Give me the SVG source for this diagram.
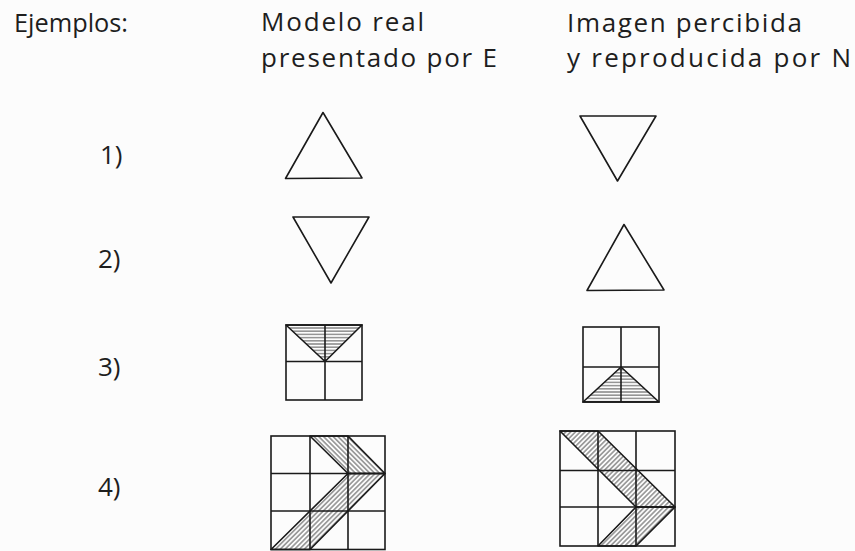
<svg xmlns="http://www.w3.org/2000/svg" width="855" height="551" viewBox="0 0 855 551">
<style>
text{font-family:"Open Sans","Liberation Sans",sans-serif;font-weight:400;font-size:26px;fill:#1e1e1e}
.s{fill:none;stroke:#1a1a1a;stroke-width:1.6;stroke-linejoin:round}
.g{fill:none;stroke:#1a1a1a;stroke-width:1.6}
.hh{fill:url(#hz);stroke:#1a1a1a;stroke-width:1.6;stroke-linejoin:round}
.hb{fill:url(#bk);stroke:#1a1a1a;stroke-width:1.6;stroke-linejoin:round}
.hf{fill:url(#fw);stroke:#1a1a1a;stroke-width:1.6;stroke-linejoin:round}
</style>
<defs>
<pattern id="hz" width="10" height="3.2" patternUnits="userSpaceOnUse"><line x1="0" y1="1.6" x2="10" y2="1.6" stroke="#444" stroke-width="0.9"/></pattern>
<pattern id="bk" width="10" height="3.4" patternUnits="userSpaceOnUse" patternTransform="rotate(45)"><line x1="0" y1="1.7" x2="10" y2="1.7" stroke="#444" stroke-width="0.9"/></pattern>
<pattern id="fw" width="10" height="3.4" patternUnits="userSpaceOnUse" patternTransform="rotate(-45)"><line x1="0" y1="1.7" x2="10" y2="1.7" stroke="#444" stroke-width="0.9"/></pattern>
</defs>
<rect width="855" height="551" fill="#fcfcfc"/>
<g id="headers">
<text x="14" y="32" textLength="114" lengthAdjust="spacingAndGlyphs">Ejemplos:</text>
<text x="261" y="31" textLength="163" lengthAdjust="spacing">Modelo real</text>
<text x="261" y="67" textLength="236" lengthAdjust="spacing">presentado por E</text>
<text x="567" y="32" textLength="235" lengthAdjust="spacing">Imagen percibida</text>
<text x="567" y="67" textLength="284" lengthAdjust="spacing">y reproducida por N</text>
</g>
<g id="labels">
<text x="100" y="164">1)</text>
<text x="98" y="268">2)</text>
<text x="98" y="376">3)</text>
<text x="98" y="496">4)</text>
</g>
<g id="ex1-model"><polygon class="s" points="323,112.5 285.5,178.5 362,178"/></g>
<g id="ex1-image"><polygon class="s" points="580,116 656,116 617.5,181"/></g>
<g id="ex2-model"><polygon class="s" points="293,217 369,217 331,283"/></g>
<g id="ex2-image"><polygon class="s" points="624,224.5 587,290.5 664,290"/></g>
<g id="ex3-model">
<polygon class="hh" points="286,325 362,325 325,361.5"/>
<rect class="g" x="286" y="325" width="76" height="75"/>
<line class="g" x1="325" y1="325" x2="325" y2="400"/>
<line class="g" x1="286" y1="361.5" x2="362" y2="361.5"/>
</g>
<g id="ex3-image">
<polygon class="hh" points="621,367 583,402 659,402"/>
<rect class="g" x="583" y="327" width="76" height="75"/>
<line class="g" x1="621" y1="327" x2="621" y2="402"/>
<line class="g" x1="583" y1="367" x2="659" y2="367"/>
</g>
<g id="ex4-model">
<polygon class="hb" points="310,436 348,436 385,473.5 348,473.5"/>
<polygon class="hf" points="348,473.5 385,473.5 310,549.5 271,549.5"/>
<rect class="g" x="271" y="436" width="114" height="113.5"/>
<line class="g" x1="310" y1="436" x2="310" y2="549.5"/>
<line class="g" x1="348" y1="436" x2="348" y2="549.5"/>
<line class="g" x1="271" y1="473.5" x2="385" y2="473.5"/>
<line class="g" x1="271" y1="511" x2="385" y2="511"/>
</g>
<g id="ex4-image">
<polygon class="hf" points="560,431 598,431 675,507 636,507"/>
<polygon class="hf" points="636,507 675,507 636,546 598,546"/>
<rect class="g" x="560" y="431" width="115" height="115"/>
<line class="g" x1="598" y1="431" x2="598" y2="546"/>
<line class="g" x1="636" y1="431" x2="636" y2="546"/>
<line class="g" x1="560" y1="470.5" x2="675" y2="470.5"/>
<line class="g" x1="560" y1="507" x2="675" y2="507"/>
</g>
</svg>
